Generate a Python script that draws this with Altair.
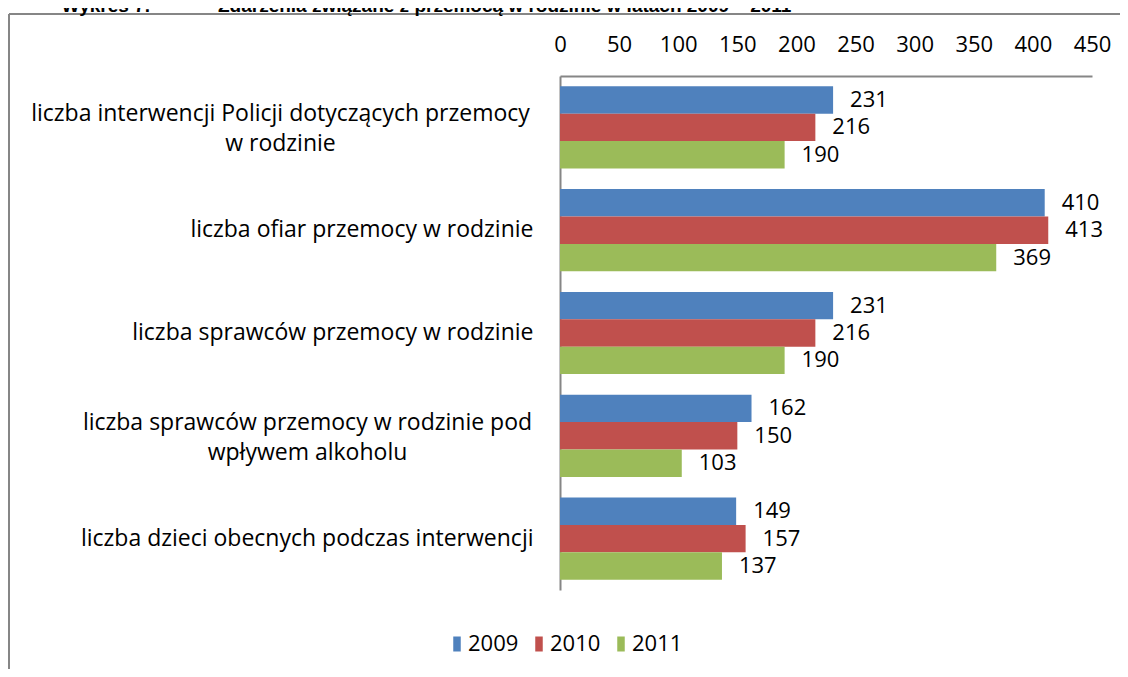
import altair as alt
import pandas as pd

categories = [
    "liczba interwencji Policji dotyczących przemocy|w rodzinie",
    "liczba ofiar przemocy w rodzinie",
    "liczba sprawców przemocy w rodzinie",
    "liczba sprawców przemocy w rodzinie pod|wpływem alkoholu",
    "liczba dzieci obecnych podczas interwencji",
]
years = ["2009", "2010", "2011"]
v2009 = [231, 410, 231, 162, 149]
v2010 = [216, 413, 216, 150, 157]
v2011 = [190, 369, 190, 103, 137]
colors = ["#4F81BD", "#C0504D", "#9BBB59"]
title_left = "Wykres 7."
title_right = "Zdarzenia związane z przemocą w rodzinie w latach 2009 – 2011"
x_ticks = [0, 50, 100, 150, 200, 250, 300, 350, 400, 450]

rows = []
for vals, yr in zip([v2009, v2010, v2011], years):
    for c, v in zip(categories, vals):
        rows.append({"kat": c, "rok": yr, "wartosc": v})
df = pd.DataFrame(rows)

FONT = "Open Sans"
FS = 23
FSV = 22
W, H = 532, 514

multi = "indexof(datum.value, '|') >= 0"

base = alt.Chart(df).encode(
    y=alt.Y(
        "kat:N",
        sort=categories,
        scale=alt.Scale(paddingInner=0.2, paddingOuter=0.1),
        axis=alt.Axis(
            title=None,
            ticks=False,
            domainColor="#868686",
            domainWidth=2,
            labelFont=FONT,
            labelFontSize=FS,
            labelColor="black",
            labelLimit=1000,
            labelLineHeight=30,
            labelExpr="split(datum.label, '|')",
            labelAlign={
                "condition": {"test": multi, "value": "center"},
                "value": "right",
            },
            labelOffset={
                "condition": {"test": multi, "value": -13},
                "value": 0,
            },
            labelPadding={
                "condition": [
                    {"test": "indexof(datum.value, 'Policji') >= 0", "value": 280},
                    {"test": "indexof(datum.value, 'alkoholu') >= 0", "value": 253},
                ],
                "value": 27,
            },
        ),
    ),
    yOffset=alt.YOffset("rok:N", sort=years),
)

bars = base.mark_bar().encode(
    x=alt.X(
        "wartosc:Q",
        scale=alt.Scale(domain=[0, 450], nice=False),
        axis=alt.Axis(
            orient="top",
            title=None,
            values=x_ticks,
            grid=False,
            ticks=False,
            domainColor="#868686",
            domainWidth=2,
            labelFont=FONT,
            labelFontSize=FSV,
            labelColor="black",
            labelPadding=20,
            labelFlush=False,
        ),
    ),
    color=alt.Color(
        "rok:N",
        sort=years,
        scale=alt.Scale(domain=years, range=colors),
        legend=alt.Legend(
            title=None,
            orient="none",
            direction="horizontal",
            legendX=-114,
            legendY=557,
            symbolType="M-0.5,-1L0.5,-1L0.5,1L-0.5,1Z",
            symbolSize=225,
            symbolStrokeWidth=0,
            labelFont=FONT,
            labelFontSize=FSV,
            labelColor="black",
            labelOffset=0,
            columnPadding=9,
        ),
    ),
)

labels = base.mark_text(
    align="left", baseline="middle", dx=17, font=FONT, fontSize=FSV, color="black"
).encode(x="wartosc:Q", text="wartosc:Q")

title_l = alt.Chart(pd.DataFrame({"t": [title_left]})).mark_text(
    align="right", baseline="alphabetic", font="Liberation Sans", fontSize=19, fontWeight="bold", color="black"
).encode(text="t:N", x=alt.value(150 - 560), y=alt.value(-64))
title_r = alt.Chart(pd.DataFrame({"t": [title_right]})).mark_text(
    align="left", baseline="alphabetic", font="Liberation Sans", fontSize=19, fontWeight="bold", color="black"
).encode(text="t:N", x=alt.value(218 - 560), y=alt.value(-64))

frame_top = alt.Chart(pd.DataFrame({"a": [0]})).mark_rule(color="#868686", strokeWidth=2).encode(
    x=alt.value(-551), x2=alt.value(600), y=alt.value(-62)
)
frame_left = alt.Chart(pd.DataFrame({"a": [0]})).mark_rule(color="#868686", strokeWidth=2).encode(
    x=alt.value(-551), y=alt.value(-62), y2=alt.value(700)
)

chart = (
    alt.layer(frame_top, frame_left, title_l, title_r, bars, labels)
    .properties(
        width=W,
        height=H,
        padding={"left": 552, "top": 68, "right": 28, "bottom": 79},
        autosize=alt.AutoSizeParams(type="none"),
    )
    .configure(background="white")
    .configure_view(stroke=None)
)

chart.save("out.html", embed_options={"renderer": "svg", "actions": False})
